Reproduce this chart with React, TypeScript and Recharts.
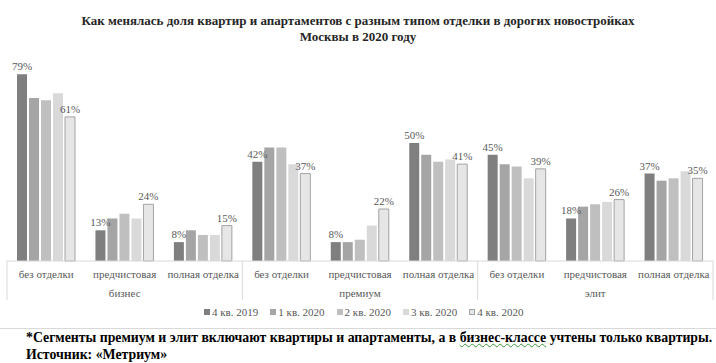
import React from "react";
import { Bar, BarChart, LabelList, Legend, XAxis, YAxis } from "recharts";

const categories = [
  "без отделки",
  "предчистовая",
  "полная отделка",
  "без отделки",
  "предчистовая",
  "полная отделка",
  "без отделки",
  "предчистовая",
  "полная отделка",
];
const groups = ["бизнес", "премиум", "элит"];

const q4_2019 = [79, 13, 8, 42, 8, 50, 45, 18, 37];
const q1_2020 = [69, 18, 13, 48, 8, 45, 41, 23, 34];
const q2_2020 = [68, 20, 11, 48, 9, 42, 40, 24, 35];
const q3_2020 = [71, 18, 11, 41, 15, 43, 35, 25, 38];
const q4_2020 = [61, 24, 15, 37, 22, 41, 39, 26, 35];

const seriesNames = ["4 кв. 2019", "1 кв. 2020", "2 кв. 2020", "3 кв. 2020", "4 кв. 2020"];

const SERIF = "'Liberation Serif', 'Times New Roman', serif";
const TEXT = "#595959";

const data = categories.map((cat, i) => ({
  cat,
  group: groups[Math.floor(i / 3)],
  s0: q4_2019[i],
  s1: q1_2020[i],
  s2: q2_2020[i],
  s3: q3_2020[i],
  s4: q4_2020[i],
}));

const series = [
  { key: "s0", fill: "#7f7f7f", stroke: "none" },
  { key: "s1", fill: "#a5a5a5", stroke: "none" },
  { key: "s2", fill: "#bfbfbf", stroke: "none" },
  { key: "s3", fill: "#d9d9d9", stroke: "none" },
  { key: "s4", fill: "#e7e6e6", stroke: "#a3a3a3" },
];

function CategoryTick(props: any) {
  const { x, y, payload } = props;
  const index: number = payload.index;
  const half: number = payload.offset || 706 / 18;
  const row = data[index];
  return (
    <g>
      <text x={x} y={y + 17} textAnchor="middle" fontSize={11} fontFamily={SERIF} fill={TEXT}>
        {payload.value}
      </text>
      {index % 3 === 1 && (
        <text x={x} y={y + 36} textAnchor="middle" fontSize={11} fontFamily={SERIF} fill={TEXT}>
          {row.group}
        </text>
      )}
      {index % 3 === 0 && (
        <line x1={x - half} x2={x - half} y1={y} y2={y + 39} stroke="#d9d9d9" />
      )}
      {index === categories.length - 1 && (
        <line x1={x + half} x2={x + half} y1={y} y2={y + 39} stroke="#d9d9d9" />
      )}
    </g>
  );
}

function LegendContent() {
  return (
    <div style={{ display: "flex", fontFamily: SERIF, fontSize: 11, color: TEXT }}>
      {series.map((s, i) => (
        <div key={s.key} style={{ display: "flex", alignItems: "center", marginRight: 12 }}>
          <span
            style={{
              display: "inline-block",
              width: 6,
              height: 6,
              background: s.fill,
              border: s.stroke === "none" ? "none" : `1px solid ${s.stroke}`,
              boxSizing: "border-box",
              marginRight: 2,
            }}
          />
          <span>{seriesNames[i]}</span>
        </div>
      ))}
    </div>
  );
}

export default function App() {
  return (
    <div style={{ position: "fixed", top: 0, left: 0, width: 716, height: 363, background: "#fff", overflow: "hidden" }}>
      <div
        style={{
          position: "absolute",
          top: 13,
          left: 0,
          width: 716,
          textAlign: "center",
          fontFamily: SERIF,
          fontWeight: "bold",
          fontSize: 13,
          lineHeight: "16px",
          color: "#262626",
        }}
      >
        Как менялась доля квартир и апартаментов с разным типом отделки в дорогих новостройках
        <br />
        Москвы в 2020 году
      </div>
      <div style={{ position: "absolute", top: 0, left: 0 }}>
        <BarChart
          width={716}
          height={363}
          data={data}
          margin={{ top: 72, right: 3, bottom: 62, left: 7 }}
          barCategoryGap={10}
          barGap={2}
        >
          <XAxis
            dataKey="cat"
            height={40}
            interval={0}
            tickSize={0}
            tickMargin={0}
            tickLine={false}
            axisLine={{ stroke: "#d9d9d9" }}
            tick={<CategoryTick />}
          />
          <YAxis hide domain={[0, 80]} />
          <Legend
            layout="horizontal"
            verticalAlign="middle"
            align="center"
            content={<LegendContent />}
            wrapperStyle={{ top: 306, left: 204, width: "auto", height: "auto" }}
          />
          {series.map((s, i) => (
            <Bar
              key={s.key}
              dataKey={s.key}
              name={seriesNames[i]}
              fill={s.fill}
              stroke={s.stroke}
              strokeWidth={1}
              isAnimationActive={false}
            >
              {(i === 0 || i === series.length - 1) && (
                <LabelList
                  dataKey={s.key}
                  position="top"
                  offset={4}
                  formatter={(v: any) => `${v}%`}
                  fontSize={11}
                  fontFamily={SERIF}
                  fill={TEXT}
                />
              )}
            </Bar>
          ))}
        </BarChart>
      </div>
      <div style={{ position: "absolute", top: 328, left: 0, width: 716, borderTop: "1px solid #d9d9d9" }} />
      <div
        style={{
          position: "absolute",
          top: 329,
          left: 26,
          fontFamily: SERIF,
          fontWeight: "bold",
          fontSize: 13.8,
          lineHeight: "17px",
          color: "#000",
          whiteSpace: "nowrap",
        }}
      >
        *Сегменты премиум и элит включают квартиры и апартаменты, а в{" "}
        <span style={{ textDecoration: "underline wavy #3a9a3a", textDecorationThickness: 1 }}>бизнес-классе</span>{" "}
        учтены только квартиры.
        <br />
        Источник: «Метриум»
      </div>
    </div>
  );
}
